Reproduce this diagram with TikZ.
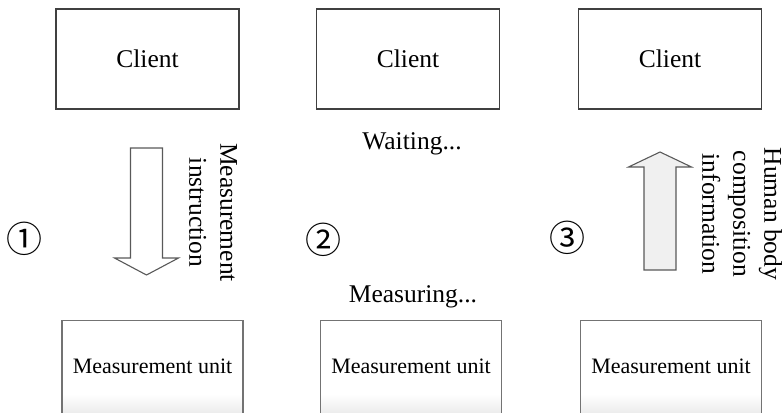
\documentclass[tikz,border=0pt]{standalone}
\usepackage{fontspec}
\setmainfont{Liberation Serif}
\newfontfamily\circfont{Noto Sans CJK JP}
\usetikzlibrary{calc}

% soft grey fade at the lower end of the unit boxes
\pgfdeclareverticalshading{unitfade}{100bp}{%
  color(0bp)=(black!9); color(25bp)=(black!9);
  color(37bp)=(white); color(100bp)=(white)}

\tikzset{
  clientbox/.style={draw=black!75, line width=1.1pt, inner sep=0pt,
    minimum width=183pt, minimum height=100pt,
    font=\fontsize{25.5}{31}\selectfont},
  unitbox/.style={draw=black!55, line width=1.1pt, inner sep=0pt,
    minimum width=181pt, minimum height=96pt, anchor=north,
    shade, shading=unitfade},
  unittext/.style={inner sep=0pt, font=\fontsize{22}{26}\selectfont},
  bodytext/.style={inner sep=0pt, font=\fontsize{25.5}{31}\selectfont},
  sidetext/.style={inner sep=0pt, rotate=-90, align=center,
    font=\fontsize{25.5}{31}\selectfont},
  stepnum/.style={inner sep=0pt, font=\circfont\fontsize{36}{36}\selectfont},
  blockarrow/.style={draw=black!65, line width=1.1pt, line join=miter},
}

\begin{document}
\begin{tikzpicture}[x=1pt, y=-1pt]
  \useasboundingbox (0,0) rectangle (783,412);
  \clip (0,0) rectangle (783,412);

  % client boxes
  \node[clientbox] (c1) at (147.5,59) {Client};
  \node[clientbox] (c2) at (408,59)   {Client};
  \node[clientbox] (c3) at (670,59)   {Client};

  % measurement unit boxes (running off the lower edge)
  \node[unitbox] (u1) at (152.5,320) {};
  \node[unitbox] (u2) at (411,320)   {};
  \node[unitbox] (u3) at (671,320)   {};
  \node[unittext] (u1t) at (152.5,366.5) {Measurement unit};
  \node[unittext] (u2t) at (411,366.5)   {Measurement unit};
  \node[unittext] (u3t) at (671,366.5)   {Measurement unit};

  % step numbers
  \node[stepnum] (n1) at (24,239)  {①};
  \node[stepnum] (n2) at (323,240) {②};
  \node[stepnum] (n3) at (567,238) {③};

  % step 1: instruction sent down
  \draw[blockarrow, fill=white]
    (130.5,148) -- (162.5,148) -- (162.5,258) -- (178.5,258)
    -- (146.5,275) -- (114.5,258) -- (130.5,258) -- cycle;
  \node[sidetext] (t1) at (213,212.5) {Measurement\\instruction};

  % step 2: waiting and measuring
  \node[bodytext] (w2) at (412,144) {Waiting...};
  \node[bodytext] (m2) at (413,297) {Measuring...};

  % step 3: result sent up
  \draw[blockarrow, fill=black!6]
    (644,270) -- (676,270) -- (676,167) -- (691.5,167)
    -- (660,152) -- (628.5,167) -- (644,167) -- cycle;
  \node[sidetext] (t3) at (742,214) {Human body\\composition\\information};
\end{tikzpicture}
\end{document}
